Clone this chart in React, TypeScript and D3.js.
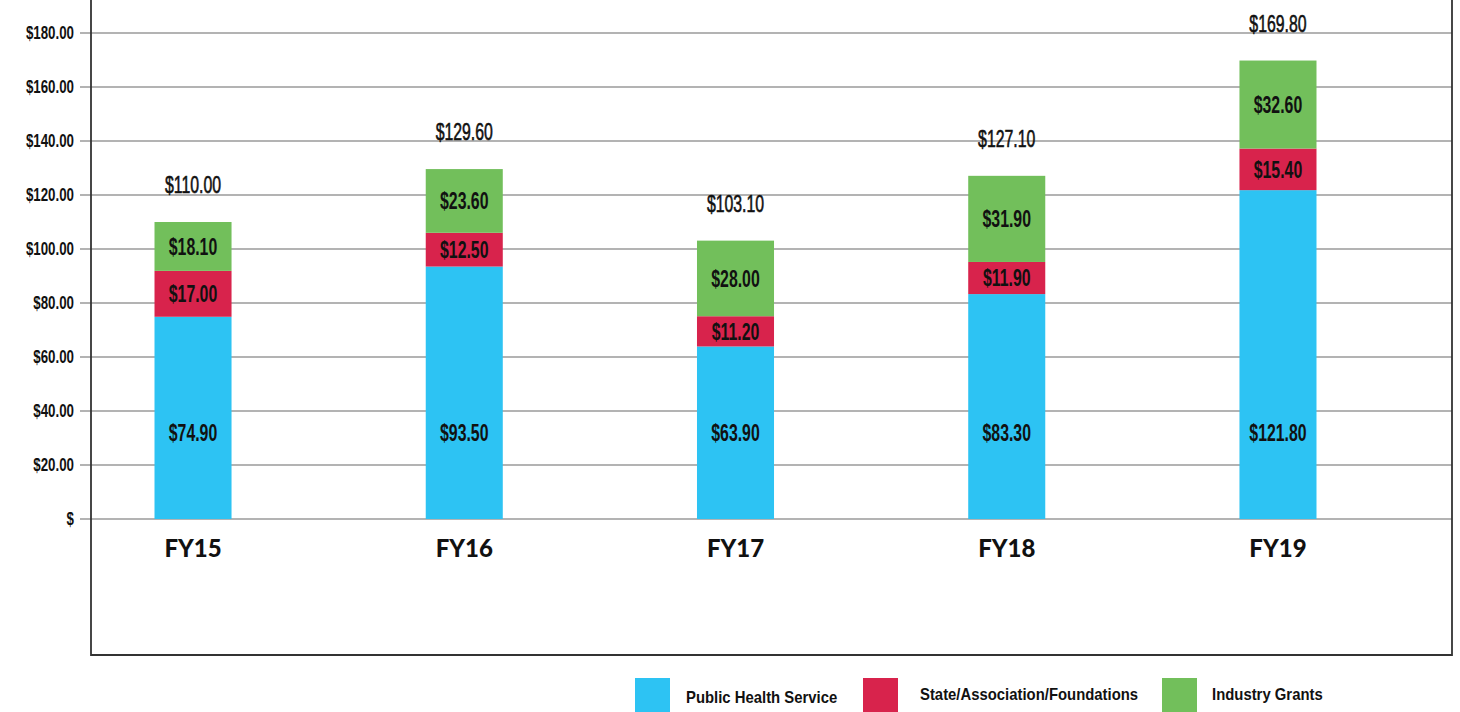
import * as d3 from "d3";

const years = ["FY15", "FY16", "FY17", "FY18", "FY19"];
const publicHealth = [74.9, 93.5, 63.9, 83.3, 121.8];
const stateFoundations = [17.0, 12.5, 11.2, 11.9, 15.4];
const industryGrants = [18.1, 23.6, 28.0, 31.9, 32.6];
const totals = [110.0, 129.6, 103.1, 127.1, 169.8];
const yTicks = [0, 20, 40, 60, 80, 100, 120, 140, 160, 180];

const seriesNames = ["Public Health Service", "State/Association/Foundations", "Industry Grants"];
const colors = ["#2dc3f3", "#d8234c", "#72bf5b"];

const sans = "'Liberation Sans', Arial, sans-serif";

// condensed-looking text: squeeze horizontally around its anchor point
function Narrow({ x, y, sx, size, weight = "normal", anchor = "middle", stroke = 0, children }: any) {
  return (
    <text
      transform={`translate(${x},${y}) scale(${sx},1)`}
      dy="0.35em"
      textAnchor={anchor}
      fontFamily={sans}
      fontSize={size}
      fontWeight={weight}
      fill="#111"
      stroke={stroke ? "#111" : "none"}
      strokeWidth={stroke}
    >
      {children}
    </text>
  );
}

export default function App() {
  const width = 1460;
  const height = 712;
  const frame = { left: 91, right: 1452, bottom: 655 };

  const x = d3.scaleBand<string>()
    .domain(years)
    .range([57.4, 1413.6])
    .paddingInner(0.716)
    .paddingOuter(0.358);

  const y = d3.scaleLinear().domain([0, 180]).range([519, 33]);

  const rows = years.map((yr, i) => ({
    year: yr,
    s0: publicHealth[i],
    s1: stateFoundations[i],
    s2: industryGrants[i],
  }));
  const stacked = d3.stack<any>().keys(["s0", "s1", "s2"])(rows);

  const fmt = (v: number) => (v === 0 ? "$" : "$" + v.toFixed(2));
  const cx = (yr: string) => (x(yr) as number) + x.bandwidth() / 2;

  return (
    <svg width={width} height={height} style={{ position: "absolute", left: 0, top: 0 }}>
      <rect width={width} height={height} fill="#fff" />

      {/* title, mostly above the visible area */}
      <text x={138} y={-5} fontFamily={sans} fontSize={22} textLength={334} lengthAdjust="spacingAndGlyphs">
        (In Millions of Dollars)
      </text>

      {/* gridlines + ticks */}
      {yTicks.map((t) => (
        <g key={t}>
          <line x1={80} x2={frame.right} y1={y(t)} y2={y(t)} stroke="#9a9a9a" strokeWidth={1.5} />
          <Narrow x={74} y={y(t)} sx={0.72} size={18.5} weight="bold" anchor="end">
            {fmt(t)}
          </Narrow>
        </g>
      ))}

      {/* frame */}
      <path
        d={`M${frame.left},0 V${frame.bottom} H${frame.right} V0`}
        fill="none"
        stroke="#333"
        strokeWidth={1.8}
      />

      {/* bars */}
      {stacked.map((layer, li) =>
        layer.map((d, i) => (
          <rect
            key={li + "-" + i}
            x={x(years[i])}
            y={y(d[1])}
            width={x.bandwidth()}
            height={y(d[0]) - y(d[1])}
            fill={colors[li]}
          />
        ))
      )}

      {/* segment labels */}
      {stacked.map((layer, li) =>
        layer.map((d, i) => {
          const v = d[1] - d[0];
          const ly = li === 0 ? y(32) : y((d[0] + d[1]) / 2);
          return (
            <Narrow key={"l" + li + "-" + i} x={cx(years[i])} y={ly} sx={0.66} size={24} weight="bold">
              {"$" + v.toFixed(2)}
            </Narrow>
          );
        })
      )}

      {/* totals */}
      {totals.map((t, i) => (
        <Narrow key={"t" + i} x={cx(years[i])} y={y(t) - 37} sx={0.66} size={24} stroke={0.6}>
          {"$" + t.toFixed(2)}
        </Narrow>
      ))}

      {/* x labels */}
      {years.map((yr) => (
        <text
          key={yr}
          x={cx(yr)}
          y={549}
          dy="0.35em"
          textAnchor="middle"
          fontFamily="Lato, 'Open Sans', sans-serif"
          fontWeight={900}
          fontSize={24}
          fill="#111"
        >
          {yr}
        </text>
      ))}

      {/* legend */}
      {[
        { x: 635, tx: 686, ty: 697 },
        { x: 863, tx: 920, ty: 694 },
        { x: 1162, tx: 1212, ty: 694 },
      ].map((p, i) => (
        <g key={"lg" + i}>
          <rect x={p.x} y={678} width={35} height={34} fill={colors[i]} />
          <Narrow x={p.tx} y={p.ty} sx={0.93} size={16} weight="bold" anchor="start">
            {seriesNames[i]}
          </Narrow>
        </g>
      ))}
    </svg>
  );
}
